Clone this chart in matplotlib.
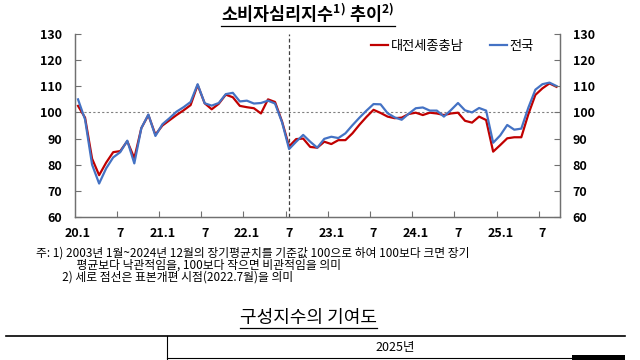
import matplotlib
matplotlib.use("Agg")
import matplotlib.pyplot as plt
import numpy as np
from matplotlib.lines import Line2D
from matplotlib.patches import Rectangle

plt.rcParams['font.family'] = ['Noto Sans CJK KR', 'DejaVu Sans']
plt.rcParams['mathtext.default'] = 'regular'
plt.rcParams['axes.unicode_minus'] = False

# ------------------------------------------------------------
# Data (2020.1 ~ 2025.9, monthly)
# ------------------------------------------------------------

months = [f"{y}.{m}" for y in range(20, 26) for m in range(1, 13)][:69]

regional = [  # 대전세종충남
    102.5, 98.0, 82.3, 76.0, 80.8, 84.8, 85.2, 89.0, 82.5, 94.0, 99.0, 91.5,
    95.0, 97.0, 99.0, 100.8, 102.8, 110.5, 103.5, 101.2, 103.3, 106.8, 105.8, 102.5,
    102.0, 101.6, 99.6, 105.0, 104.0, 96.5, 87.0, 89.8, 90.0, 86.8, 86.5, 88.8,
    87.9, 89.4, 89.4, 92.0, 95.3, 98.3, 101.0, 99.8, 98.4, 97.8, 98.0, 99.4,
    99.9, 99.0, 99.9, 99.6, 99.0, 99.6, 99.9, 96.8, 96.1, 98.4, 97.1, 85.0,
    87.5, 90.1, 90.5, 90.5, 99.3, 106.7, 109.2, 111.1, 109.8,
]

national = [  # 전국
    105.0, 97.3, 80.0, 72.8, 78.6, 82.8, 84.8, 89.2, 80.5, 94.0, 99.2, 91.0,
    95.5, 97.8, 100.3, 102.0, 104.0, 110.8, 103.5, 102.6, 103.6, 107.0, 107.5, 104.2,
    104.5, 103.4, 103.6, 104.5, 103.4, 96.2, 86.0, 88.8, 91.4, 88.8, 86.5, 89.9,
    90.7, 90.2, 92.0, 95.1, 98.0, 100.7, 103.2, 103.1, 99.7, 98.1, 97.2, 99.5,
    101.6, 101.9, 100.7, 100.7, 98.4, 100.9, 103.6, 100.8, 100.0, 101.7, 100.7, 88.4,
    91.2, 95.2, 93.4, 93.8, 101.8, 108.7, 110.8, 111.4, 110.1,
]

tick_labels = ["20.1", "7", "21.1", "7", "22.1", "7",
               "23.1", "7", "24.1", "7", "25.1", "7"]
y_ticks = [60, 70, 80, 90, 100, 110, 120, 130]
revision_month = "22.7"

notes = [
    "주: 1) 2003년 1월~2024년 12월의 장기평균치를 기준값 100으로 하여 100보다 크면 장기",
    "\u3000\u3000\u3000  평균보다 낙관적임을, 100보다 작으면 비관적임을 의미",
    "\u3000\u3000 2) 세로 점선은 표본개편 시점(2022.7월)을 의미",
]

RED = "#C00000"
BLUE = "#4472C4"
SPINE = "#707070"

# ------------------------------------------------------------
# Figure
# ------------------------------------------------------------

W, H = 640, 360
fig = plt.figure(figsize=(6.4, 3.6), dpi=100)
ax = fig.add_axes([74.5 / W, 1 - 217 / H, (560 - 74.5) / W, 183 / H])

x = np.arange(len(months))
ax.plot(x, regional, color=RED, lw=1.6, label="대전세종충남", zorder=3)
ax.plot(x, national, color=BLUE, lw=1.6, label="전국", zorder=4)

ax.axhline(100, color="#808080", lw=0.8, ls=(0, (2, 2)), zorder=1)
ax.axvline(months.index(revision_month), color="#404040", lw=0.9,
           ls=(0, (3, 2)), zorder=2)

ax.set_xlim(-0.5, len(months) - 0.5)
ax.set_ylim(60, 130)

# x: tick marks between categories, labels on categories
major = np.arange(6, len(months), 6) - 0.5
ax.set_xticks(major, [""] * len(major))
ax.set_xticks(np.arange(0, len(months), 6), tick_labels, minor=True,
              fontweight="bold", fontsize=9)
ax.tick_params(axis="x", which="major", direction="in", length=4,
               color=SPINE, width=0.8)
ax.tick_params(axis="x", which="minor", length=0, pad=7)

ax.set_yticks(y_ticks, [str(v) for v in y_ticks], fontweight="bold", fontsize=9)
ax.tick_params(axis="y", direction="in", length=4, pad=9, color=SPINE, width=0.8)

ax2 = ax.twinx()
ax2.set_ylim(60, 130)
ax2.set_yticks(y_ticks, [str(v) for v in y_ticks], fontweight="bold", fontsize=9)
ax2.tick_params(axis="y", direction="in", length=4, pad=9, color=SPINE, width=0.8)

for a in (ax, ax2):
    a.spines["top"].set_visible(False)
    for s in ("left", "right", "bottom"):
        a.spines[s].set_color(SPINE)
        a.spines[s].set_linewidth(0.9)

ax2.legend(*ax.get_legend_handles_labels(), loc="center right",
           bbox_to_anchor=(0.96, 0.934), ncol=2, frameon=False,
           prop={"size": 9.5}, handlelength=1.3, handletextpad=0.2,
           columnspacing=2.0, borderpad=0)

# ------------------------------------------------------------
# Texts
# ------------------------------------------------------------

title = fig.text(308 / W, 1 - 13 / H, r"소비자심리지수$^{1)}$ 추이$^{2)}$",
                 ha="center", va="center", fontsize=12.5, fontweight="bold")

fig.text(36 / W, 1 - 265 / H, "\n".join(notes), ha="left", va="center",
         fontsize=8.5, linespacing=0.93)

heading = fig.text(308 / W, 1 - 318 / H, "구성지수의 기여도",
                   ha="center", va="center", fontsize=13)

fig.text(395 / W, 1 - 347 / H, "2025년", ha="center", va="center", fontsize=9)

# table rules
fig.add_artist(Line2D([6 / W, 625 / W], [1 - 336 / H] * 2, color="black", lw=1.2))
fig.add_artist(Line2D([167 / W, 167 / W], [1 - 336 / H, 0], color="black", lw=0.8))
fig.add_artist(Line2D([167 / W, 572 / W], [1 - 358 / H] * 2, color="black", lw=0.8))
fig.add_artist(Rectangle((572 / W, 0), 53 / W, 5 / H, transform=fig.transFigure,
                         color="black", lw=0))

# underline title and heading
fig.canvas.draw()
renderer = fig.canvas.get_renderer()
for t in (title, heading):
    bb = t.get_window_extent(renderer)
    yline = (bb.y0 - 1) / H
    fig.add_artist(Line2D([bb.x0 / W, bb.x1 / W], [yline, yline],
                          color="black", lw=0.9))

fig.savefig("out.png", dpi=100)
